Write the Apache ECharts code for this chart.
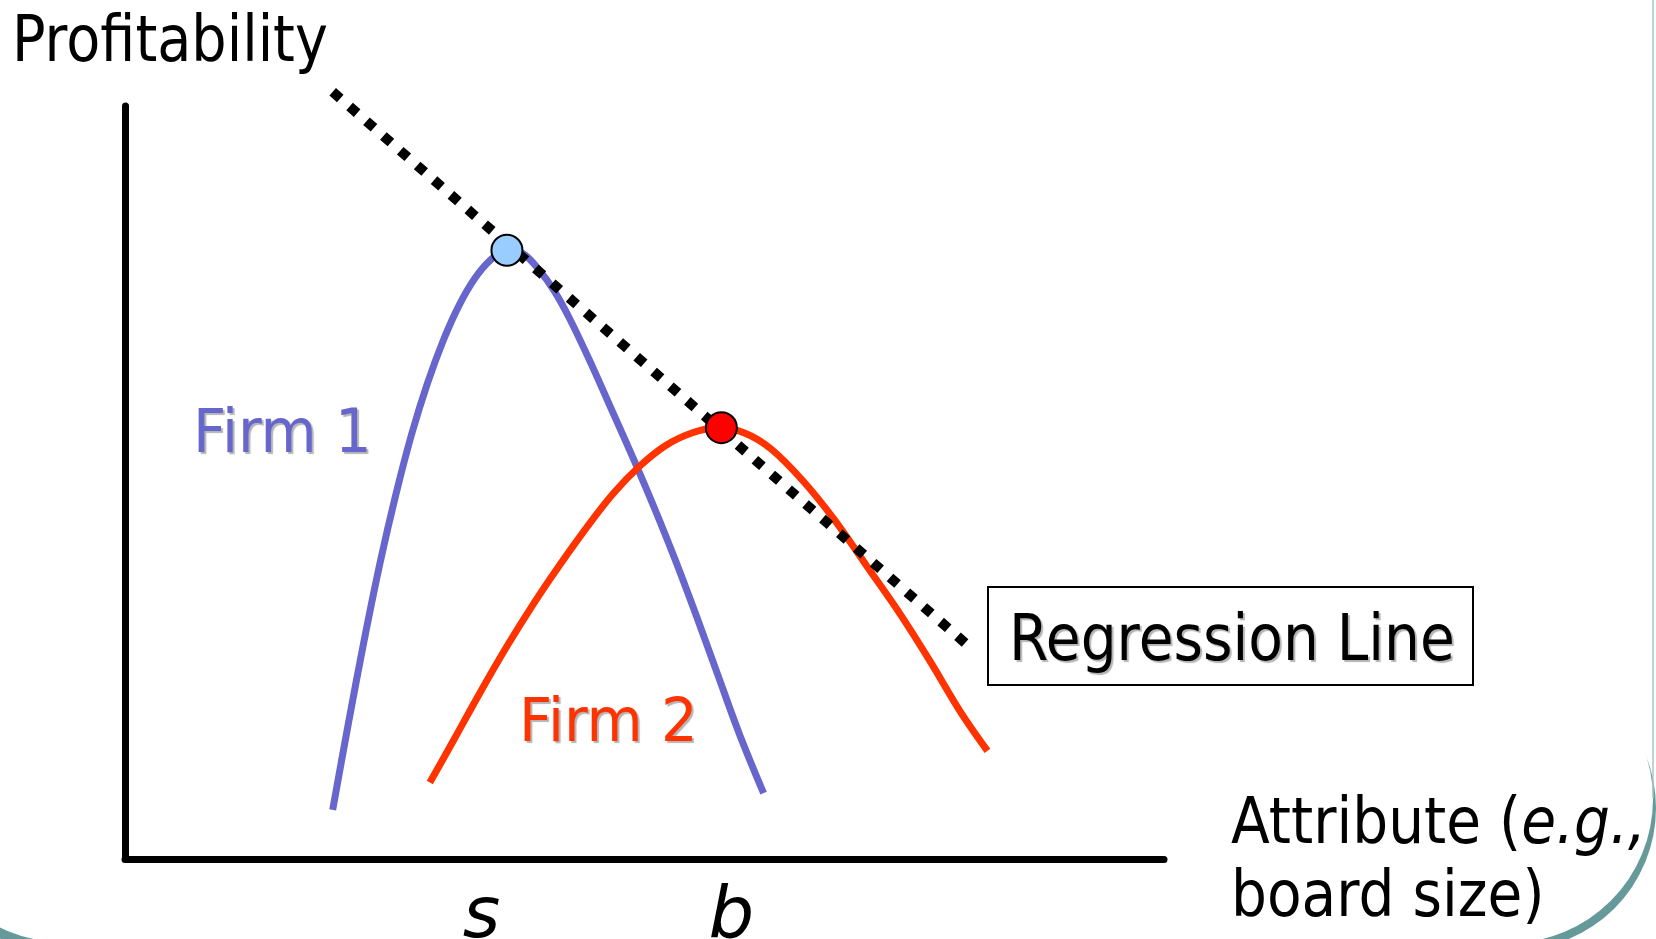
<!DOCTYPE html>
<html>
<head>
<meta charset="utf-8">
<script src="https://cdn.jsdelivr.net/npm/echarts@6/dist/echarts.min.js"></script>
<style>
  html, body { margin: 0; padding: 0; background: #fff; }
  #chart { width: 1656px; height: 939px; }
</style>
</head>
<body>
<div id="chart"></div>
<script>
// Profitability against a firm attribute (e.g. board size): each firm has its own
// hump-shaped profit curve, and the regression line runs through their optima.

// Firm 1 profit curve, [attribute, profitability] in axis units (0-100)
const firm1 = [
  [19.99, 6.51], [21.51, 18.08], [23.04, 29.19], [24.56, 39.41], [26.09, 48.52],
  [27.61, 56.52], [29.14, 63.29], [30.66, 68.96], [32.19, 73.63], [33.71, 77.19],
  [35.24, 79.63], [36.76, 80.96], [38.29, 80.42], [39.81, 78.32], [41.34, 75.37],
  [42.86, 71.58], [44.89, 65.69], [46.93, 59.38], [48.96, 53.07], [50.99, 46.48],
  [53.03, 39.47], [55.06, 32.03], [57.09, 24.32], [59.13, 16.61], [61.46, 8.75]
];

// Firm 2 profit curve
const firm2 = [
  [29.34, 10.15], [31.68, 15.90], [34.22, 22.22], [36.76, 28.25], [39.30, 33.86],
  [41.84, 39.05], [44.39, 43.95], [46.93, 48.44], [49.47, 52.09], [52.01, 54.89],
  [54.55, 56.58], [57.09, 57.28], [59.63, 56.58], [62.17, 54.47], [65.22, 50.27],
  [68.27, 45.08], [71.32, 39.05], [74.37, 33.02], [77.42, 26.42], [80.47, 19.41],
  [83.01, 14.36]
];

// Regression line end points
const regressionLine = [[19.99, 101.88], [81.69, 27.69]];

// Each firm's chosen attribute level (the optimum of its curve)
const optimumFirm1 = [36.76, 80.84];
const optimumFirm2 = [57.40, 57.28];

// Attribute tick labels: s (small board) and b (big board)
const tickLabels = ['s', 'b'];
const tickPositions = [34.31, 58.37];

const FONT = 'DejaVu Sans';
const tealShade = '#669999';

const chart = echarts.init(document.getElementById('chart'), null, { renderer: 'canvas' });

const labelShadow = {
  textShadowColor: '#B4B4B4', textShadowOffsetX: 2, textShadowOffsetY: 2, textShadowBlur: 1
};

const option = {
  backgroundColor: '#ffffff',
  animation: false,
  grid: { left: 125, right: 492, top: 106, bottom: 80, containLabel: false, outerBoundsMode: 'none' },
  xAxis: {
    type: 'value', min: 0, max: 100,
    splitLine: { show: false },
    axisTick: { show: false },
    axisLine: { show: true, onZero: false, lineStyle: { color: '#000', width: 7 } },
    axisLabel: {
      customValues: tickPositions,
      formatter: function (v) {
        const i = tickPositions.indexOf(v);
        return i >= 0 ? tickLabels[i] : '';
      },
      fontFamily: FONT, fontStyle: 'italic', fontSize: 72, lineHeight: 72,
      color: '#000', margin: 23
    }
  },
  yAxis: {
    type: 'value', min: 0, max: 100,
    splitLine: { show: false },
    axisTick: { show: false },
    axisLabel: { show: false },
    axisLine: { show: true, onZero: false, lineStyle: { color: '#000', width: 7 } }
  },
  series: [
    {
      name: 'Firm 1', type: 'line', data: firm1, smooth: 0.35, showSymbol: false,
      lineStyle: { color: '#6666CC', width: 7 }, z: 2
    },
    {
      name: 'Firm 2', type: 'line', data: firm2, smooth: 0.35, showSymbol: false,
      lineStyle: { color: '#FF3300', width: 7 }, z: 2
    },
    {
      name: 'Regression Line', type: 'line', data: regressionLine, showSymbol: false,
      clip: false,
      lineStyle: { color: '#000', width: 10, type: [10, 12.4], cap: 'butt' }, z: 3
    },
    {
      name: 'Optima', type: 'scatter', symbol: 'circle', symbolSize: 31,
      data: [
        { value: optimumFirm1, itemStyle: { color: '#99CCFF' } },
        { value: optimumFirm2, itemStyle: { color: '#FF0000' } }
      ],
      itemStyle: { borderColor: '#000', borderWidth: 2, opacity: 1 },
      z: 4
    }
  ],
  graphic: [
    // slide frame: teal crescent shading at the lower right corner, thin right border
    { type: 'circle', z: 0, shape: { cx: 1514, cy: 808, r: 142 }, style: { fill: tealShade } },
    { type: 'circle', z: 0, shape: { cx: 1509, cy: 799, r: 144 }, style: { fill: '#ffffff' } },
    { type: 'rect', z: 0, shape: { x: 1360, y: 870, width: 140, height: 80 }, style: { fill: '#ffffff' } },
    { type: 'line', z: 0, shape: { x1: 1653, y1: 0, x2: 1653, y2: 798 },
      style: { stroke: '#A8C6C6', lineWidth: 1.5 } },
    // matching shading at the lower left corner
    { type: 'arc', z: 0, shape: { cx: 63, cy: 797, r: 150, startAngle: Math.PI * 0.5, endAngle: Math.PI * 0.75, clockwise: true },
      style: { stroke: tealShade, lineWidth: 10, fill: null } },

    // y-axis title
    { type: 'text', z: 10, x: 12, y: 44, scaleX: 0.87,
      style: { text: 'Profitability', fontFamily: FONT, fontSize: 64, fill: '#000',
               textAlign: 'left', align: 'left', textVerticalAlign: 'middle', verticalAlign: 'middle' } },

    // x-axis title (two lines, "e.g.," in italics)
    { type: 'text', z: 10, x: 1231, y: 790, scaleX: 0.885,
      style: { text: 'Attribute ({i|e.g.,}\nboard size)', fontFamily: FONT, fontSize: 64, lineHeight: 73,
               fill: '#000', textAlign: 'left', align: 'left', textVerticalAlign: 'top', verticalAlign: 'top',
               rich: { i: { fontFamily: FONT, fontSize: 64, lineHeight: 73, fontStyle: 'italic', fill: '#000' } } } },

    // curve labels
    { type: 'text', z: 10, x: 193, y: 436, scaleX: 0.96,
      style: Object.assign({ text: 'Firm 1', fontFamily: FONT, fontSize: 60, fill: '#6666CC',
               textAlign: 'left', align: 'left', textVerticalAlign: 'middle', verticalAlign: 'middle' }, labelShadow) },
    { type: 'text', z: 10, x: 519, y: 725, scaleX: 0.96,
      style: Object.assign({ text: 'Firm 2', fontFamily: FONT, fontSize: 60, fill: '#FF3300',
               textAlign: 'left', align: 'left', textVerticalAlign: 'middle', verticalAlign: 'middle' }, labelShadow) },

    // regression line label box
    { type: 'rect', z: 10, shape: { x: 988, y: 587, width: 485, height: 98 },
      style: { fill: '#fff', stroke: '#000', lineWidth: 2 } },
    { type: 'text', z: 11, x: 1009, y: 643, scaleX: 0.885,
      style: Object.assign({ text: 'Regression Line', fontFamily: FONT, fontSize: 64, fill: '#000',
               textAlign: 'left', align: 'left', textVerticalAlign: 'middle', verticalAlign: 'middle' }, labelShadow) }
  ]
};

chart.setOption(option);
</script>
</body>
</html>
